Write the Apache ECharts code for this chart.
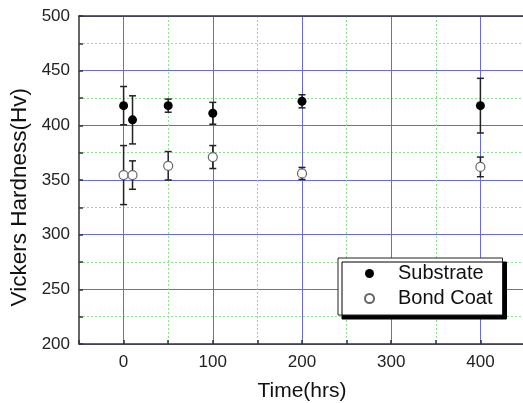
<!DOCTYPE html>
<html><head><meta charset="utf-8">
<script src="https://cdn.jsdelivr.net/npm/echarts@6/dist/echarts.min.js"></script>
<style>html,body{margin:0;padding:0;background:#fff}#c{width:523px;height:403px}</style>
</head><body><div id="c"></div>
<script>
const times = [0, 10, 50, 100, 200, 400];
const substrate = [418, 405, 418, 411, 422, 418];
const substrateErr = [17.5, 22, 6, 10, 6, 25];
const bondCoat = [354.5, 354.5, 363, 371, 356, 362];
const bondCoatErr = [27, 13, 13, 10.5, 5.5, 9];
const xTickLabels = ['0', '100', '200', '300', '400'];
const xMajorValues = [0, 100, 200, 300, 400];
const xMinorValues = [50, 150, 250, 350];
const yTickLabels = ['200', '250', '300', '350', '400', '450', '500'];
const seriesNames = ['Substrate', 'Bond Coat'];

const FONT = 'Liberation Sans, Arial, sans-serif';
const BLUE = '#6868e8';
const GREEN = '#86e486';
const AXIS = '#333';

function pts(vals) { return times.map((t, i) => [t, vals[i]]); }
function errs(vals, e) { return times.map((t, i) => [t, vals[i] - e[i], vals[i] + e[i]]); }

function errRender(params, api) {
  const x = api.value(0), lo = api.value(1), hi = api.value(2);
  const p1 = api.coord([x, hi]), p2 = api.coord([x, lo]);
  const w = 3.5;
  const style = { stroke: '#222', lineWidth: 1.5, fill: null };
  return { type: 'group', children: [
    { type: 'line', shape: { x1: p1[0], y1: p1[1], x2: p2[0], y2: p2[1] }, style },
    { type: 'line', shape: { x1: p1[0] - w, y1: p1[1], x2: p1[0] + w, y2: p1[1] }, style },
    { type: 'line', shape: { x1: p2[0] - w, y1: p2[1], x2: p2[0] + w, y2: p2[1] }, style }
  ]};
}

const hiddenX = { type: 'value', min: -50, max: 450, axisLine: { show: false, onZero: false }, axisTick: { show: false }, axisLabel: { show: false } };

const chart = echarts.init(document.getElementById('c'), null, { renderer: 'canvas' });
chart.setOption({
  animation: false,
  backgroundColor: '#fff',
  grid: { left: 79, top: 16, right: -2, bottom: 59, containLabel: false, outerBoundsMode: 'none' },
  xAxis: [
    { type: 'value', min: -50, max: 450, interval: 50, position: 'bottom',
      axisLine: { show: true, onZero: false, lineStyle: { color: AXIS, width: 1.5 } },
      axisTick: { show: true, inside: true, length: 4, lineStyle: { color: AXIS, width: 1.5 } },
      axisLabel: { formatter: v => xTickLabels.includes(String(v)) ? String(v) : '', fontSize: 17, color: '#222', fontFamily: FONT, margin: 10 },
      splitLine: { show: false },
      name: 'Time(hrs)', nameLocation: 'middle', nameGap: 37,
      nameTextStyle: { fontSize: 21, color: '#111', fontFamily: FONT } },
    { type: 'value', min: -50, max: 450, position: 'top',
      axisLine: { show: true, onZero: false, lineStyle: { color: AXIS, width: 1.5 } },
      axisTick: { show: false, customValues: xMajorValues },
      axisLabel: { show: false, customValues: xMajorValues },
      splitLine: { show: true, lineStyle: { color: BLUE, type: 'solid', width: 1 } } },
    Object.assign({}, hiddenX, { position: 'bottom',
      axisTick: { show: false, customValues: xMinorValues },
      axisLabel: { show: false, customValues: xMinorValues },
      splitLine: { show: true, lineStyle: { color: GREEN, type: [2, 2], width: 1 } } })
  ],
  yAxis: { type: 'value', min: 200, max: 500, interval: 50,
    axisLine: { show: true, onZero: false, lineStyle: { color: AXIS, width: 1.5 } },
    axisTick: { show: true, inside: true, length: 4, lineStyle: { color: AXIS, width: 1.5 } },
    minorTick: { show: true, splitNumber: 2, length: 4, lineStyle: { color: AXIS, width: 1.5 } },
    minorSplitLine: { show: true, lineStyle: { color: GREEN, type: [2, 2], width: 1 } },
    splitLine: { show: true, lineStyle: { color: BLUE, width: 1 } },
    axisLabel: { formatter: v => yTickLabels.includes(String(v)) ? String(v) : '', fontSize: 17, color: '#222', fontFamily: FONT, margin: 9 } },
  graphic: [{ type: 'text', left: 8, top: 88, rotation: Math.PI / 2, style: { text: 'Vickers Hardness(Hv)', fontSize: 22.5, fill: '#111', fontFamily: FONT } }],
  legend: { data: seriesNames, orient: 'vertical', left: 338, top: 258, padding: [3, 10, 4, 26], itemWidth: 9, itemHeight: 9, itemGap: 0,
    textStyle: { fontSize: 20, color: '#111', fontFamily: FONT, lineHeight: 25, padding: [0, 0, 0, 19] },
    backgroundColor: '#fff', borderColor: '#222', borderWidth: 1, borderRadius: 0,
    shadowColor: '#000', shadowBlur: 0, shadowOffsetX: 4, shadowOffsetY: 4 },
  series: [
    { type: 'custom', renderItem: errRender, data: errs(substrate, substrateErr), encode: { x: 0, y: [1, 2] }, z: 3, silent: true },
    { type: 'custom', renderItem: errRender, data: errs(bondCoat, bondCoatErr), encode: { x: 0, y: [1, 2] }, z: 3, silent: true },
    { name: seriesNames[0], type: 'scatter', data: pts(substrate), symbol: 'circle', symbolSize: 9, z: 5, itemStyle: { color: '#000', opacity: 1 } },
    { name: seriesNames[1], type: 'scatter', data: pts(bondCoat), symbol: 'circle', symbolSize: 9, z: 5, itemStyle: { color: '#fff', borderColor: '#666', borderWidth: 1.2, opacity: 1 } }
  ]
});
</script></body></html>
